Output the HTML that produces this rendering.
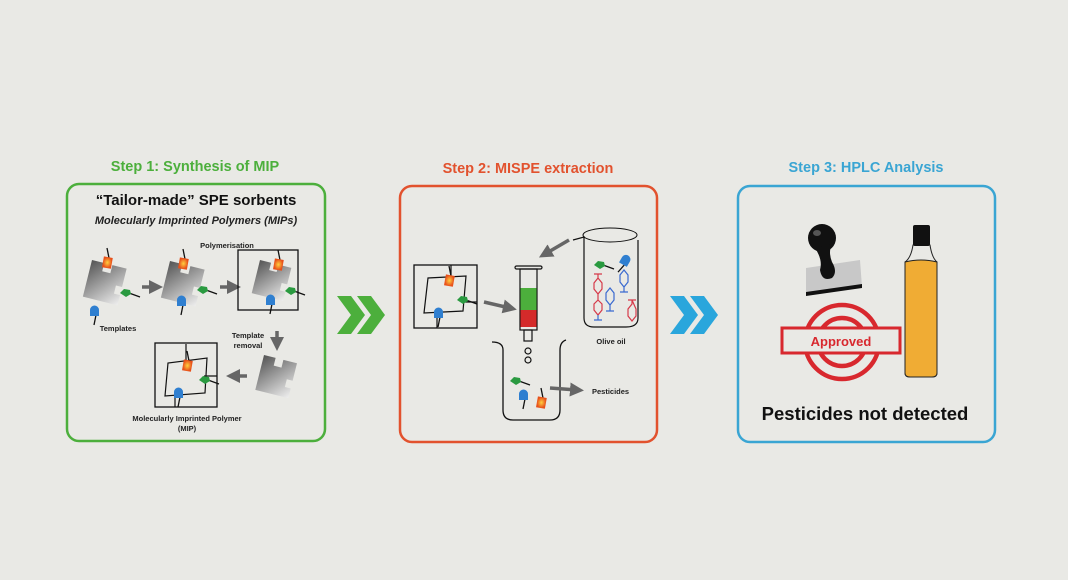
<!DOCTYPE html>
<html><head><meta charset="utf-8"><style>
html,body{margin:0;padding:0;background:#e9e9e5;}
svg{display:block;font-family:"Liberation Sans",sans-serif;}
</style></head><body>
<svg width="1068" height="580" viewBox="0 0 1068 580">
<defs>
<linearGradient id="pg" x1="0" y1="0" x2="1" y2="1"><stop offset="0" stop-color="#555"/><stop offset="1" stop-color="#eee"/></linearGradient>
<radialGradient id="og"><stop offset="0" stop-color="#ffd040"/><stop offset="1" stop-color="#e8501a"/></radialGradient>
<g id="tOr"><line x1="0" y1="-14" x2="2" y2="-4" stroke="#111" stroke-width="1.3"/><rect x="-4" y="-5" width="9" height="11" fill="url(#og)" transform="rotate(10)"/></g>
<g id="tBl"><line x1="0" y1="14" x2="2" y2="4" stroke="#111" stroke-width="1.3"/><path d="M-4 5 V-1 a4 4 0 0 1 9 0 V5Z" fill="#2f7fd0"/></g>
<g id="tGr"><line x1="3" y1="0" x2="14" y2="4" stroke="#111" stroke-width="1.3"/><path d="M-6 0 L-2 -4 L4 -3 L5 1 L0 4 Z" fill="#2a9a40"/></g>
<g id="piece"><path d="M0 0 H12 V8 H20 V0 H34 V18 H28 V26 H34 V36 H0 Z" fill="url(#pg)"/></g>
<marker id="ah" markerWidth="4" markerHeight="4" refX="2" refY="2" orient="auto"><path d="M0 0L4 2L0 4Z" fill="#666"/></marker>
</defs>
<rect width="1068" height="580" fill="#e9e9e5"/>

<text x="195" y="171" text-anchor="middle" font-size="14.5" font-weight="bold" fill="#4caf3c">Step 1: Synthesis of MIP</text>
<text x="528" y="173" text-anchor="middle" font-size="14.5" font-weight="bold" fill="#e2522e">Step 2: MISPE extraction</text>
<text x="866" y="172" text-anchor="middle" font-size="14.5" font-weight="bold" fill="#3aa5d3">Step 3: HPLC Analysis</text>

<rect x="67" y="184" width="258" height="257" rx="12" fill="none" stroke="#4caf3c" stroke-width="2.5"/>
<rect x="400" y="186" width="257" height="256" rx="12" fill="none" stroke="#e2522e" stroke-width="2.5"/>
<rect x="738" y="186" width="257" height="256" rx="12" fill="none" stroke="#3aa5d3" stroke-width="2.5"/>

<g fill="#4caf3c"><path d="M337 296 h14 l14 19 l-14 19 h-14 l14 -19z"/><path d="M357 296 h14 l14 19 l-14 19 h-14 l14 -19z"/></g>
<g fill="#2aa6dc"><path d="M670 296 h14 l14 19 l-14 19 h-14 l14 -19z"/><path d="M690 296 h14 l14 19 l-14 19 h-14 l14 -19z"/></g>

<text x="196" y="205" text-anchor="middle" font-size="15" font-weight="bold" fill="#111">“Tailor-made” SPE sorbents</text>
<text x="196" y="224" text-anchor="middle" font-size="11" font-weight="bold" font-style="italic" fill="#222">Molecularly Imprinted Polymers (MIPs)</text>
<text x="227" y="248" text-anchor="middle" font-size="7.5" font-weight="bold" fill="#222">Polymerisation</text>
<use href="#piece" transform="translate(92,260) rotate(14) scale(1.05)"/>
<use href="#tOr" transform="translate(107,262)"/>
<use href="#tGr" transform="translate(126,293)"/>
<use href="#tBl" transform="translate(94,311)"/>
<text x="118" y="331" text-anchor="middle" font-size="7.5" font-weight="bold" fill="#222">Templates</text>
<line x1="142" y1="287" x2="156" y2="287" stroke="#666" stroke-width="3.5" marker-end="url(#ah)"/>
<use href="#piece" transform="translate(170,261) rotate(14) scale(1.05)"/>
<use href="#tOr" transform="translate(183,263)"/>
<use href="#tGr" transform="translate(203,290)"/>
<use href="#tBl" transform="translate(181,301)"/>
<line x1="220" y1="287" x2="234" y2="287" stroke="#666" stroke-width="3.5" marker-end="url(#ah)"/>
<rect x="238" y="250" width="60" height="60" fill="none" stroke="#111" stroke-width="1.3"/>
<use href="#piece" transform="translate(260,260) rotate(14) scale(0.95)"/>
<use href="#tOr" transform="translate(278,264)"/>
<use href="#tGr" transform="translate(291,291)"/>
<use href="#tBl" transform="translate(270,300)"/>
<text x="248" y="338" text-anchor="middle" font-size="7.5" font-weight="bold" fill="#222">Template</text>
<text x="248" y="348" text-anchor="middle" font-size="7.5" font-weight="bold" fill="#222">removal</text>
<line x1="277" y1="331" x2="277" y2="344" stroke="#666" stroke-width="3.5" marker-end="url(#ah)"/>
<use href="#piece" transform="translate(264,355) rotate(14)"/>
<line x1="247" y1="376" x2="233" y2="376" stroke="#666" stroke-width="3.5" marker-end="url(#ah)"/>
<rect x="155" y="343" width="62" height="64" fill="none" stroke="#111" stroke-width="1.3"/>
<path d="M165 396 L168 363 L207 358 L205 393 Z M186 344 V361 M204 376 H217 M175 395 V407" fill="none" stroke="#111" stroke-width="1.2"/>
<use href="#tOr" transform="translate(187,365)"/>
<use href="#tGr" transform="translate(205,380)"/>
<use href="#tBl" transform="translate(178,393)"/>
<text x="187" y="421" text-anchor="middle" font-size="7.5" font-weight="bold" fill="#222">Molecularly Imprinted Polymer</text>
<text x="187" y="431" text-anchor="middle" font-size="7.5" font-weight="bold" fill="#222">(MIP)</text>

<rect x="414" y="265" width="63" height="63" fill="none" stroke="#111" stroke-width="1.3"/>
<path d="M424 313 L428 278 L466 276 L463 311 Z M451 265 V277 M465 302 H477 M437 312 V328" fill="none" stroke="#111" stroke-width="1.2"/>
<use href="#tOr" transform="translate(449,280)"/>
<use href="#tGr" transform="translate(463,300)"/>
<use href="#tBl" transform="translate(438,313)"/>
<line x1="484" y1="302" x2="510" y2="308" stroke="#666" stroke-width="3.5" marker-end="url(#ah)"/>
<line x1="569" y1="240" x2="545" y2="254" stroke="#666" stroke-width="3.5" marker-end="url(#ah)"/>
<rect x="515" y="266" width="27" height="3" rx="1.5" fill="none" stroke="#111" stroke-width="1.2"/>
<rect x="520" y="269" width="17" height="61" fill="none" stroke="#111" stroke-width="1.2"/>
<rect x="520.5" y="288" width="16" height="22" fill="#4caf3c"/>
<rect x="520.5" y="310" width="16" height="17" fill="#d42a2a"/>
<rect x="524" y="330" width="8" height="11" fill="none" stroke="#111" stroke-width="1.2"/>
<circle cx="528" cy="351" r="3" fill="none" stroke="#111" stroke-width="1.2"/>
<circle cx="528" cy="360" r="3" fill="none" stroke="#111" stroke-width="1.2"/>
<path d="M492 342 Q503 342 503 350 V410 Q503 420 513 420 H550 Q560 420 560 410 V350 Q560 342 566 340" fill="none" stroke="#111" stroke-width="1.3"/>
<use href="#tGr" transform="translate(516,381)"/>
<use href="#tBl" transform="translate(523,395)"/>
<use href="#tOr" transform="translate(541,402)"/>
<line x1="550" y1="388" x2="577" y2="390" stroke="#666" stroke-width="3.5" marker-end="url(#ah)"/>
<text x="592" y="394" font-size="7.5" font-weight="bold" fill="#222">Pesticides</text>
<path d="M573 240 L584 237 V318 Q584 327 594 327 H626 Q638 327 638 318 V240" fill="none" stroke="#111" stroke-width="1.2"/>
<ellipse cx="610" cy="235" rx="27" ry="7" fill="none" stroke="#111" stroke-width="1"/>
<use href="#tGr" transform="translate(600,265)"/>
<g transform="translate(625,260) rotate(30)"><use href="#tBl"/></g>
<g fill="none" stroke-width="1.2">
<path d="M594 274 h8 M598 274 v4 l-4 5 v6 l4 5 l4 -5 v-6 l-4 -5 M598 294 v6 l-4 4 v6 l4 5 l4 -5 v-6 l-4 -4" stroke="#d63a4a"/>
<path d="M598 315 v5 M594 320 h8" stroke="#3a6ad0"/>
<path d="M610 288 l-4 5 v7 l4 5 l4 -5 v-7z M610 305 v6 M606 311 h8" stroke="#3a6ad0"/>
<path d="M624 270 l-4 5 v7 l4 5 l4 -5 v-7z M624 287 v5 M620 292 h8" stroke="#3a6ad0"/>
<path d="M628 300 h8 M632 300 v4 l-4 5 v7 l4 5 l4 -5 v-7z" stroke="#d63a4a"/>
</g>
<text x="611" y="344" text-anchor="middle" font-size="7.5" font-weight="bold" fill="#222">Olive oil</text>

<path d="M806 268 L860 260 L862 287 L806 295 Z" fill="#c8c8c8"/>
<path d="M806 292 L862 284 L862 288 L806 296 Z" fill="#111"/>
<ellipse cx="822" cy="238" rx="14" ry="14" fill="#111"/>
<ellipse cx="817" cy="233" rx="4" ry="3" fill="#555"/>
<path d="M815 248 Q823 260 820 270 Q822 282 832 278 Q838 272 832 262 Q828 252 832 244 Z" fill="#111"/>
<circle cx="842" cy="342" r="37" fill="none" stroke="#d8282e" stroke-width="4.5"/>
<circle cx="842" cy="342" r="24" fill="none" stroke="#d8282e" stroke-width="4.5"/>
<rect x="782" y="328" width="118" height="25" fill="#e9e9e5" stroke="#d8282e" stroke-width="3"/>
<text x="841" y="346" text-anchor="middle" font-size="13" font-weight="bold" fill="#d8282e">Approved</text>
<path d="M913 245 H930 Q932 258 937 262 V373 Q937 377 932 377 H910 Q905 377 905 373 V262 Q911 258 913 245Z" fill="none" stroke="#222" stroke-width="1"/>
<path d="M905 262 Q921 258 937 262 V373 Q937 377 932 377 H910 Q905 377 905 373 Z" fill="#f0ac34" stroke="#222" stroke-width="1"/>
<rect x="913" y="225" width="17" height="21" rx="2" fill="#111"/>
<text x="865" y="420" text-anchor="middle" font-size="18.5" font-weight="bold" fill="#111">Pesticides not detected</text>
</svg>
</body></html>
